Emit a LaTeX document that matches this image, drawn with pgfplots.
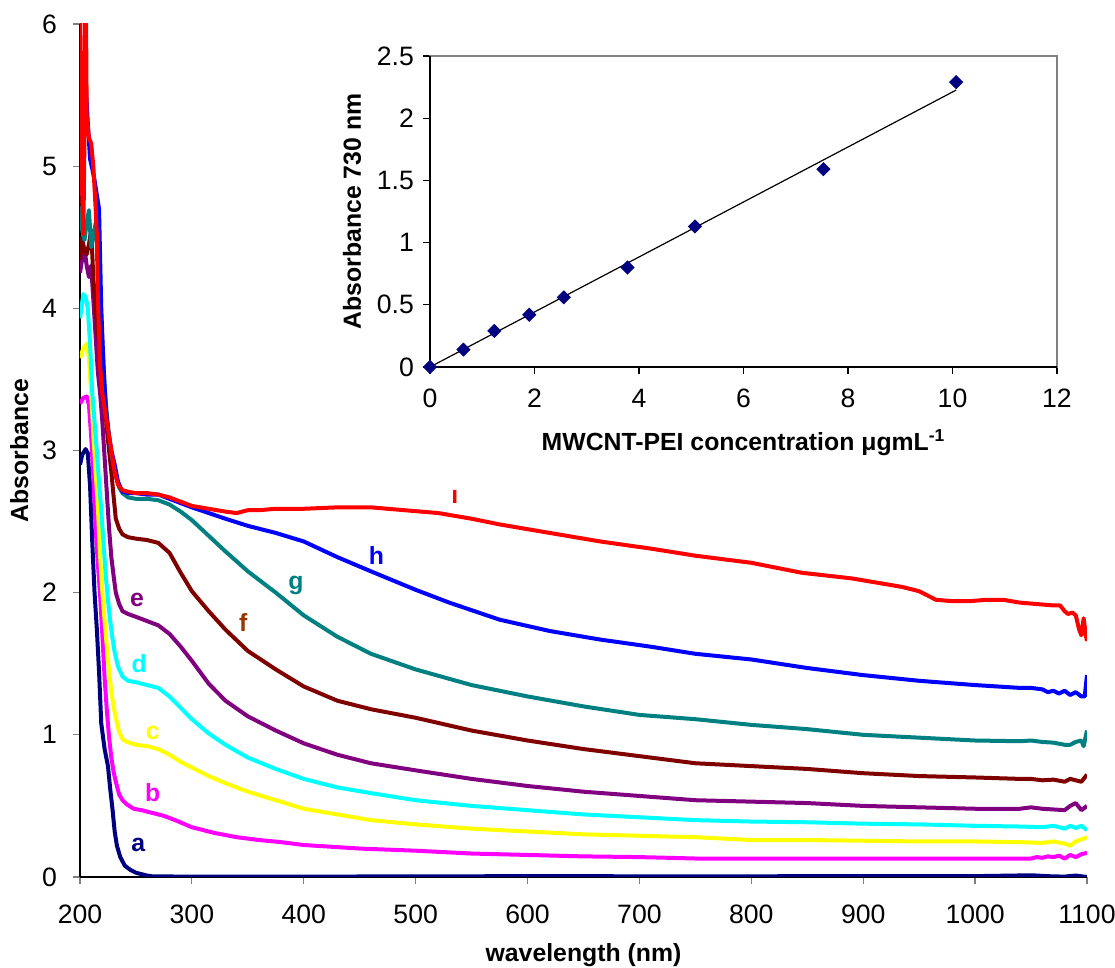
\documentclass[border=0pt]{standalone}
\usepackage{fontspec}
\setmainfont{Liberation Sans}
\usepackage{pgfplots}
\pgfplotsset{compat=1.18}
\usetikzlibrary{calc}
\definecolor{cA}{RGB}{0,0,128}
\definecolor{cB}{RGB}{255,0,255}
\definecolor{cC}{RGB}{255,255,0}
\definecolor{cD}{RGB}{0,255,255}
\definecolor{cE}{RGB}{128,0,128}
\definecolor{cF}{RGB}{128,0,0}
\definecolor{cG}{RGB}{0,128,128}
\definecolor{cH}{RGB}{0,0,255}
\definecolor{cI}{RGB}{255,0,0}
\definecolor{fbrown}{RGB}{153,51,0}
\definecolor{axgray}{RGB}{128,128,128}
\newcommand{\lbl}{\fontsize{12.4}{15}\selectfont\bfseries}
\newcommand{\tkf}{\fontsize{13.3}{16}\selectfont}
\begin{document}
\begin{tikzpicture}[x=1pt,y=1pt]
\def\u{0.5}
\begin{axis}[name=main,
  at={(0,0)}, anchor=south west,
  scale only axis, width=503.5pt, height=426.5pt,
  xmin=200, xmax=1100, ymin=0, ymax=6,
  xtick={200,300,...,1100}, ytick={0,1,...,6},
  axis x line*=bottom, axis y line*=left,
  axis line style={black, line width=0.6pt},
  tick align=outside, major tick length=3.5pt,
  tick style={axgray, line width=0.6pt},
  /pgf/number format/assume math mode=true,
  /pgf/number format/1000 sep={},
  ticklabel style={font=\tkf},
  xticklabel style={yshift=-7pt},
  yticklabel style={xshift=-4.5pt},
  xlabel={\lbl wavelength (nm)}, ylabel={\lbl Absorbance},
  xlabel style={yshift=-3pt}, ylabel style={yshift=0pt},
  every axis plot/.append style={line width=2pt, line join=round},
]
\addplot[cA] coordinates {(200,2.90)(202,2.97)(205,3.01)(207,2.98)(209,2.75)(211,2.35)(213,2.0)(215,1.75)(217,1.45)(219,1.08)(222,0.9)(225,0.78)(227,0.62)(229,0.48)(231,0.32)(233,0.22)(236,0.14)(240,0.08)(245,0.05)(250,0.03)(255,0.02)(260,0.01)(265,0.004)(300,0.003)(400,0.003)(500,0.004)(600,0.006)(700,0.005)(800,0.005)(900,0.006)(1000,0.006)(1050,0.012)(1060,0.008)(1070,0.004)(1080,0.003)(1090,0.01)(1100,0.0)};
\addplot[cB] coordinates {(200,3.33)(203,3.37)(206,3.38)(208,3.32)(210,3.1)(212,2.8)(214,2.45)(216,2.2)(218,1.98)(220,1.7)(222,1.4)(224,1.17)(226,0.98)(228,0.84)(230,0.74)(232,0.67)(235,0.58)(238,0.54)(242,0.51)(248,0.48)(255,0.47)(265,0.45)(275,0.43)(285,0.40)(300,0.35)(320,0.31)(340,0.28)(360,0.26)(380,0.245)(400,0.225)(450,0.20)(500,0.185)(550,0.165)(600,0.155)(650,0.145)(700,0.14)(750,0.13)(800,0.13)(900,0.13)(1000,0.13)(1050,0.13)(1055,0.14)(1060,0.135)(1065,0.145)(1070,0.14)(1075,0.15)(1080,0.13)(1085,0.155)(1090,0.14)(1095,0.16)(1100,0.17)};
\addplot[cC] coordinates {(200,3.65)(203,3.72)(206,3.75)(208,3.65)(210,3.4)(212,3.1)(214,2.85)(216,2.6)(218,2.25)(220,2.0)(222,1.8)(224,1.62)(226,1.45)(228,1.3)(230,1.2)(232,1.12)(235,1.02)(238,0.97)(242,0.95)(250,0.93)(260,0.92)(270,0.90)(280,0.86)(290,0.81)(300,0.77)(315,0.71)(330,0.66)(350,0.60)(375,0.54)(400,0.48)(430,0.44)(460,0.40)(500,0.37)(550,0.34)(600,0.32)(650,0.30)(700,0.29)(750,0.28)(800,0.26)(850,0.26)(900,0.255)(950,0.25)(1000,0.25)(1040,0.245)(1060,0.24)(1070,0.25)(1080,0.235)(1085,0.22)(1090,0.25)(1095,0.265)(1100,0.28)};
\addplot[cD] coordinates {(200,3.93)(203,4.10)(205,4.08)(207,4.0)(209,3.75)(211,3.4)(213,3.2)(215,3.0)(217,2.78)(219,2.58)(221,2.35)(223,2.12)(225,1.95)(227,1.8)(229,1.68)(231,1.58)(234,1.48)(238,1.41)(243,1.38)(250,1.37)(260,1.35)(270,1.33)(280,1.27)(290,1.19)(300,1.11)(315,1.01)(330,0.93)(350,0.84)(375,0.76)(400,0.69)(430,0.63)(460,0.59)(500,0.54)(550,0.50)(600,0.47)(650,0.44)(700,0.42)(750,0.40)(800,0.39)(850,0.385)(900,0.375)(950,0.37)(1000,0.36)(1040,0.355)(1060,0.35)(1070,0.36)(1080,0.34)(1085,0.36)(1090,0.345)(1095,0.36)(1100,0.33)};
\addplot[cE] coordinates {(200,4.25)(202,4.35)(204,4.42)(206,4.3)(208,4.22)(210,4.3)(212,4.05)(214,3.8)(216,3.55)(218,3.4)(220,3.2)(222,2.95)(224,2.7)(226,2.45)(228,2.25)(230,2.12)(232,2.0)(235,1.92)(238,1.87)(243,1.85)(250,1.83)(260,1.80)(270,1.77)(280,1.71)(290,1.62)(300,1.52)(315,1.36)(330,1.24)(350,1.13)(375,1.03)(400,0.94)(430,0.86)(460,0.80)(500,0.75)(550,0.69)(600,0.64)(650,0.60)(700,0.57)(750,0.54)(800,0.53)(850,0.52)(900,0.50)(950,0.49)(1000,0.48)(1040,0.48)(1050,0.49)(1060,0.48)(1070,0.475)(1080,0.47)(1085,0.5)(1090,0.52)(1095,0.47)(1100,0.5)};
\addplot[cF] coordinates {(200,4.34)(202,4.5)(204,4.4)(206,4.38)(208,4.45)(210,4.55)(212,4.2)(214,4.0)(216,3.82)(218,3.72)(220,3.59)(222,3.35)(224,3.15)(226,3.0)(228,2.85)(230,2.68)(232,2.52)(235,2.45)(238,2.41)(243,2.39)(250,2.38)(260,2.37)(270,2.35)(280,2.28)(290,2.14)(300,2.01)(315,1.87)(330,1.74)(350,1.59)(375,1.46)(400,1.34)(430,1.24)(460,1.18)(500,1.12)(550,1.03)(600,0.96)(650,0.90)(700,0.85)(750,0.80)(800,0.78)(850,0.76)(900,0.73)(950,0.71)(1000,0.70)(1040,0.69)(1050,0.69)(1060,0.68)(1070,0.685)(1080,0.67)(1085,0.69)(1090,0.68)(1095,0.67)(1100,0.72)};
\addplot[cG] coordinates {(200,4.72)(202,4.55)(204,4.48)(206,4.6)(208,4.69)(210,4.43)(212,4.5)(214,4.6)(216,4.45)(218,4.1)(220,3.75)(222,3.45)(224,3.25)(226,3.1)(228,2.98)(230,2.9)(232,2.82)(235,2.74)(238,2.7)(243,2.67)(250,2.66)(260,2.66)(270,2.65)(280,2.62)(290,2.57)(300,2.51)(315,2.40)(330,2.29)(350,2.15)(375,2.0)(400,1.84)(430,1.69)(460,1.57)(500,1.46)(550,1.35)(600,1.27)(650,1.20)(700,1.14)(750,1.11)(800,1.07)(850,1.04)(900,1.0)(950,0.98)(1000,0.96)(1040,0.955)(1050,0.96)(1060,0.95)(1070,0.945)(1080,0.93)(1085,0.93)(1090,0.95)(1095,0.96)(1097,0.92)(1100,1.03)};
\addplot[cH] coordinates {(200,4.9)(201,4.8)(203,5.72)(205,5.6)(207,5.3)(209,5.05)(211,4.98)(213,4.9)(215,4.8)(217,4.7)(219,4.0)(221,3.6)(223,3.3)(225,3.15)(228,3.0)(231,2.9)(234,2.78)(238,2.71)(243,2.70)(250,2.70)(260,2.69)(270,2.69)(280,2.66)(290,2.63)(300,2.60)(315,2.56)(330,2.52)(350,2.47)(375,2.42)(400,2.36)(430,2.25)(460,2.15)(500,2.02)(530,1.93)(575,1.81)(620,1.73)(665,1.67)(710,1.62)(750,1.57)(800,1.53)(850,1.47)(900,1.42)(950,1.38)(1000,1.35)(1040,1.33)(1050,1.33)(1060,1.32)(1065,1.30)(1070,1.31)(1075,1.29)(1080,1.31)(1085,1.28)(1090,1.30)(1095,1.27)(1098,1.27)(1100,1.42)};
\addplot[cI] coordinates {(200,6.5)(201,5.2)(202,4.8)(203,4.52)(204,5.2)(205,6.5)(206,5.35)(208,5.2)(210,5.16)(212,4.99)(214,4.7)(215,4.53)(216,4.06)(218,3.59)(220,3.4)(222,3.3)(224,3.2)(226,3.1)(228,3.0)(231,2.85)(234,2.76)(238,2.72)(243,2.71)(250,2.70)(260,2.70)(270,2.69)(280,2.67)(290,2.64)(300,2.61)(315,2.59)(330,2.57)(340,2.56)(350,2.58)(360,2.58)(375,2.59)(400,2.59)(430,2.60)(460,2.60)(490,2.58)(520,2.56)(550,2.52)(575,2.48)(620,2.42)(665,2.36)(710,2.31)(750,2.26)(800,2.21)(845,2.14)(890,2.10)(935,2.04)(950,2.01)(965,1.95)(980,1.94)(995,1.94)(1010,1.95)(1025,1.95)(1040,1.93)(1055,1.92)(1070,1.91)(1076,1.91)(1080,1.87)(1083,1.85)(1087,1.86)(1090,1.84)(1093,1.74)(1095,1.70)(1097,1.82)(1099,1.70)(1100,1.66)};
\node[cA, font=\lbl] at (axis cs:252,0.225) {a};
\node[cB, font=\lbl] at (axis cs:265,0.59) {b};
\node[cC, font=\lbl] at (axis cs:265,1.01) {c};
\node[cD, font=\lbl] at (axis cs:253,1.50) {d};
\node[cE, font=\lbl] at (axis cs:251,1.95) {e};
\node[fbrown, font=\lbl] at (axis cs:346,1.79) {f};
\node[cG, font=\lbl] at (axis cs:393,2.05) {g};
\node[cH, font=\lbl] at (axis cs:465,2.26) {h};
\node[cI, font=\lbl] at (axis cs:535,2.67) {\i};
\end{axis}
\begin{axis}[name=inset,
  at={(350*\u pt,510*\u pt)}, anchor=south west,
  scale only axis, width=313.5pt, height=155.5pt,
  xmin=0, xmax=12, ymin=0, ymax=2.5,
  xtick={0,2,...,12}, ytick={0,0.5,...,2.5},
  axis line style={axgray, line width=0.6pt},
  tick align=outside, major tick length=3.5pt,
  tick style={black, line width=0.6pt},
  xtick pos=bottom, ytick pos=left,
  /pgf/number format/assume math mode=true,
  ticklabel style={font=\tkf},
  xticklabel style={yshift=-4pt},
  yticklabel style={xshift=-1pt},
  xlabel={\lbl MWCNT-PEI concentration μgmL\textsuperscript{-1}},
  ylabel={\lbl Absorbance 730 nm},
  xlabel style={yshift=-4pt}, ylabel style={yshift=1pt},
  clip=false,
]
\draw[black, line width=0.6pt] (axis cs:0,0) -- (axis cs:12,0);
\draw[black, line width=0.6pt] (axis cs:0,0) -- (axis cs:0,2.5);
\addplot[black, line width=0.6pt] coordinates {(0,0)(10.07,2.226)};
\addplot[only marks, mark=square*, mark size=2.3pt, mark options={rotate=45, fill=cA, draw=cA}]
  coordinates {(0,0)(0.64,0.14)(1.23,0.29)(1.90,0.42)(2.56,0.56)(3.78,0.80)(5.07,1.13)(7.53,1.59)(10.07,2.29)};
\end{axis}
\pgfresetboundingbox
\path ($(main.south west)+(-80*\u pt,-91*\u pt)$) rectangle ($(main.south west)+(1035*\u pt,877*\u pt)$);
\end{tikzpicture}
\end{document}
